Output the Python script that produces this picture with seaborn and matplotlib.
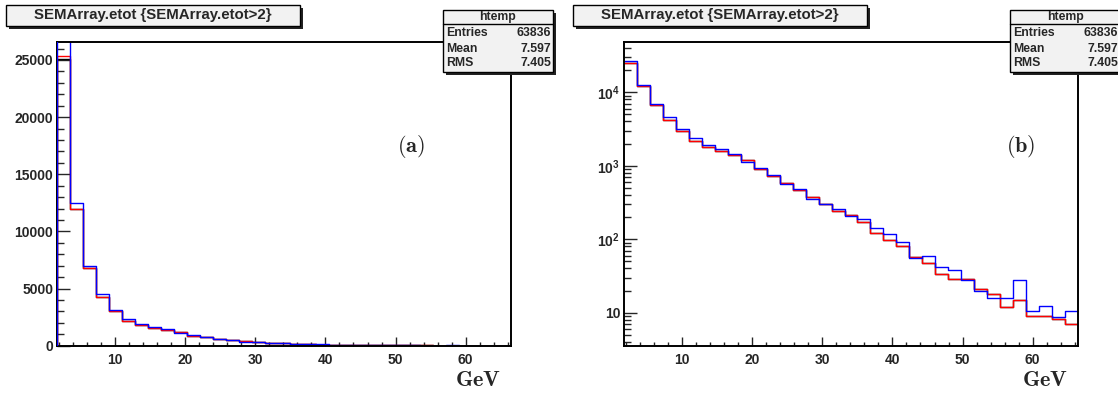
# %% Imports
import numpy as np
import pandas as pd
import matplotlib
matplotlib.use("Agg")
import matplotlib.pyplot as plt
from matplotlib.patches import Rectangle
from matplotlib.lines import Line2D
from matplotlib.ticker import MultipleLocator, LogLocator, NullFormatter
import seaborn as sns

# %% Data (35 bins of htemp)
x_lo, x_hi, n_bins = 1.72, 66.44, 35
bin_edges = np.linspace(x_lo, x_hi, n_bins + 1)
bin_centers = 0.5 * (bin_edges[:-1] + bin_edges[1:])

etot_red = [25350, 12000, 6800, 4240, 3010, 2160, 1820, 1575, 1400, 1190,
            890, 733, 590, 469, 377, 299, 240, 216, 174, 123,
            98, 80, 57, 47, 34, 29.2, 28.8, 20.9, 18.0, 12.0,
            15.1, 9.0, 9.0, 8.1, 7.0]
etot_black = [25100] + etot_red[1:]
etot_blue = [26900, 12500, 6950, 4540, 3140, 2380, 1920, 1675, 1445, 1140,
             930, 757, 565, 478, 350, 299, 256, 210, 187, 143,
             116, 93, 56, 59, 42, 38.5, 28.3, 19.6, 15.9, 15.9,
             28.3, 10.5, 12.4, 8.8, 10.5]

series_names = ['black', 'red', 'blue']
series_colors = {'black': '#000000', 'red': '#ff0000', 'blue': '#0000ff'}

title_text = 'SEMArray.etot {SEMArray.etot>2}'
stats_name = 'htemp'
stats_labels = ['Entries', 'Mean', 'RMS']
stats_values = ['63836', '7.597', '7.405']
panel_tags = [r'$\mathbf{(a)}$', r'$\mathbf{(b)}$']
x_label = r'$\mathbf{GeV}$'

lin_ticks = [0, 5000, 10000, 15000, 20000, 25000]
log_ticks = [10, 100, 1000, 10000]
log_tick_labels = ['10', r'$10^{2}$', r'$10^{3}$', r'$10^{4}$']

df = pd.DataFrame({
    'GeV': np.tile(bin_centers, 3),
    'count': np.concatenate([etot_black, etot_red, etot_blue]),
    'sample': np.repeat(series_names, n_bins),
})

# %% Style
sns.set_theme(style="ticks")
plt.rcParams['font.family'] = ['Liberation Sans', 'DejaVu Sans']
plt.rcParams['font.weight'] = 'bold'
plt.rcParams['mathtext.fontset'] = 'custom'
plt.rcParams['mathtext.rm'] = 'Liberation Sans:bold'
plt.rcParams['mathtext.it'] = 'Liberation Sans:bold'
plt.rcParams['mathtext.bf'] = 'Liberation Sans:bold'
plt.rcParams['axes.linewidth'] = 1.4
plt.rcParams['axes.edgecolor'] = 'black'

W, H = 1118, 396
fig = plt.figure(figsize=(W / 100, H / 100), dpi=100)
fig.patch.set_facecolor('white')

frame_left = [57.3, 624.3]
frame_w, frame_top, frame_bot = 453.4, 41.7, 345.7
axes = [fig.add_axes([fl / W, 1 - frame_bot / H, frame_w / W,
                      (frame_bot - frame_top) / H]) for fl in frame_left]


def draw_hists(ax, left_edge=True):
    for name in series_names:
        sub = df[df['sample'] == name]
        sns.histplot(data=sub, x='GeV', weights='count', bins=n_bins,
                     binrange=(x_lo, x_hi), element='step', fill=False,
                     color=series_colors[name], linewidth=1.0, ax=ax)
        if left_edge:
            ax.vlines(bin_edges[0], 0, sub['count'].iloc[0],
                      color=series_colors[name], linewidth=1.0, zorder=3)


# %% (a) linear
ax = axes[0]
draw_hists(ax)
ax.set_xlim(x_lo, x_hi)
ax.set_ylim(0, 26600)
ax.set_yticks(lin_ticks)
ax.yaxis.set_minor_locator(MultipleLocator(1000))

# %% (b) log
ax = axes[1]
ax.set_yscale('log')
draw_hists(ax, left_edge=False)
ax.set_xlim(x_lo, x_hi)
ax.set_ylim(3.56, 48700)
ax.set_yticks(log_ticks, labels=log_tick_labels)
ax.yaxis.set_minor_locator(LogLocator(base=10, subs=np.arange(2, 10)))
ax.yaxis.set_minor_formatter(NullFormatter())

for ax in axes:
    ax.set_xlabel('')
    ax.set_ylabel('')
    ax.set_xticks([10, 20, 30, 40, 50, 60])
    ax.xaxis.set_minor_locator(MultipleLocator(2))
    ax.tick_params(axis='x', which='major', direction='in', length=6.5,
                   width=1.0, pad=5, labelsize=10)
    ax.tick_params(axis='x', which='minor', direction='in', length=3,
                   width=1.0)
    ax.tick_params(axis='y', which='major', direction='in', length=9.5,
                   width=1.0, pad=3, labelsize=10)
    ax.tick_params(axis='y', which='minor', direction='in', length=4.7,
                   width=1.0)
    for s in ax.spines.values():
        s.set_visible(True)
    ax.set_facecolor('white')
    ax.grid(False)


# %% Pave boxes (title + stats) in pixel coords
def rect(x0, y0, x1, y1, **kw):
    r = Rectangle((x0 / W, 1 - y1 / H), (x1 - x0) / W, (y1 - y0) / H,
                  transform=fig.transFigure, **kw)
    fig.add_artist(r)


def pave(x0, y0, x1, y1):
    rect(x0 + 3, y0 + 3, x1 + 3, y1 + 3, facecolor='#222222',
         edgecolor='none', zorder=5)
    rect(x0, y0, x1, y1, facecolor='#f2f2f2', edgecolor='black',
         linewidth=1.0, zorder=6)


for off in [0, 567]:
    pave(6 + off, 5, 300 + off, 26)
    fig.text((153 + off) / W, 1 - 15.5 / H, title_text, ha='center',
             va='center', fontsize=10.8, fontweight='bold', zorder=7)

    sx0, sx1 = 443 + off, 553 + off
    pave(sx0, 10, sx1, 72)
    fig.add_artist(Line2D([sx0 / W, sx1 / W], [1 - 24 / H, 1 - 24 / H],
                          transform=fig.transFigure, color='black',
                          linewidth=1.0, zorder=7))
    fig.text((sx0 + sx1) / 2 / W, 1 - 17 / H, stats_name, ha='center',
             va='center', fontsize=8.8, fontweight='bold', zorder=7)
    for i, (lab, val) in enumerate(zip(stats_labels, stats_values)):
        yy = 1 - (33.5 + 15 * i) / H
        fig.text((sx0 + 3) / W, yy, lab, ha='left', va='center',
                 fontsize=8.8, fontweight='bold', zorder=7)
        fig.text((sx1 - 2) / W, yy, val, ha='right', va='center',
                 fontsize=8.8, fontweight='bold', zorder=7)

    fig.text((501 + off) / W, 1 - 381 / H, x_label, ha='right', va='center',
             fontsize=16, math_fontfamily='cm')

for tag, xc in zip(panel_tags, [411, 1021]):
    fig.text(xc / W, 1 - 146 / H, tag, ha='center', va='center',
             fontsize=16, math_fontfamily='cm')

fig.savefig('out.png', dpi=100, facecolor='white')
